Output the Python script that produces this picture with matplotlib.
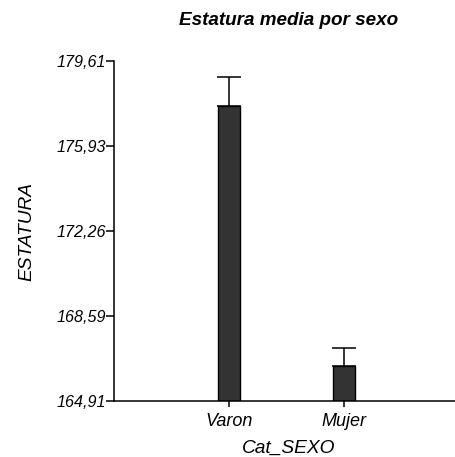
import matplotlib
matplotlib.use("Agg")
import matplotlib.pyplot as plt

categories = ["Varon", "Mujer"]
means = [177.66, 166.42]
err_upper = [1.26, 0.78]
y_ticks = [164.91, 168.59, 172.26, 175.93, 179.61]
y_tick_labels = ["164,91", "168,59", "172,26", "175,93", "179,61"]

plt.rcParams["font.family"] = ["Liberation Sans", "DejaVu Sans"]

fig = plt.figure(figsize=(4.55, 4.57), dpi=100)
# the plot area runs slightly past the right edge of the figure
ax = fig.add_axes([0.2505, 0.1225, 0.767, 0.744])

x = list(range(len(categories)))
ax.bar(x, means, width=0.19, bottom=0, color="#333333", edgecolor="black",
       linewidth=1.0, zorder=2)
ax.errorbar(x, means, yerr=[[0] * len(means), err_upper], fmt="none",
            ecolor="black", elinewidth=1.1, capsize=8.5, capthick=1.1, zorder=3)

ax.set_ylim(y_ticks[0], y_ticks[-1])
ax.set_xlim(-1.0, 2.03)
ax.set_yticks(y_ticks)
ax.set_yticklabels(y_tick_labels)
ax.set_xticks(x)
ax.set_xticklabels(categories)

for side in ("top", "right"):
    ax.spines[side].set_visible(False)
for side in ("left", "bottom"):
    ax.spines[side].set_linewidth(1.1)

ax.tick_params(axis="y", direction="out", length=6, width=1.1, pad=0,
               labelsize=11.6, colors="black")
ax.tick_params(axis="x", direction="out", length=4.5, width=1.1, pad=4,
               labelsize=13, colors="black")
for lbl in ax.get_xticklabels() + ax.get_yticklabels():
    lbl.set_fontstyle("italic")

ax.set_ylabel("ESTATURA", fontsize=13.8, fontstyle="italic", labelpad=15)
ax.set_xlabel("Cat_SEXO", fontsize=13.8, fontstyle="italic", labelpad=7)
ax.set_title("Estatura media por sexo", fontsize=13.6, fontweight="bold",
             fontstyle="italic", pad=26)

fig.savefig("out.png", dpi=100)
